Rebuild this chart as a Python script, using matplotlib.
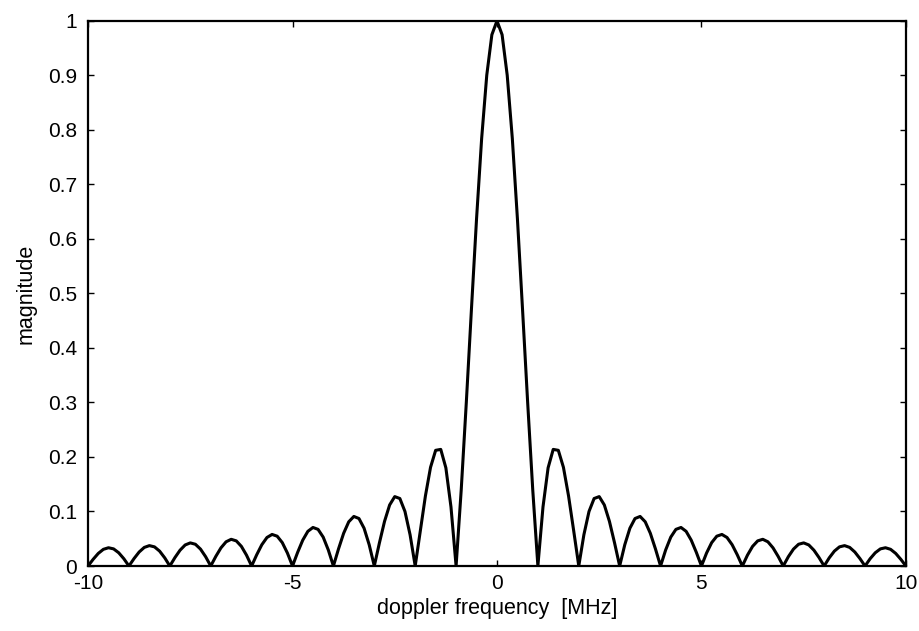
import numpy as np
import matplotlib
matplotlib.use("Agg")
import matplotlib.pyplot as plt
from matplotlib.ticker import FuncFormatter

plt.rcParams['font.family'] = ['Liberation Sans', 'DejaVu Sans']
plt.rcParams['axes.unicode_minus'] = False

magnitude = [
    0.0000, 0.0123, 0.0231, 0.0306, 0.0335, 0.0314, 0.0243, 0.0134,
    0.0000, 0.0137, 0.0257, 0.0341, 0.0374, 0.0351, 0.0273, 0.0150,
    0.0000, 0.0155, 0.0290, 0.0386, 0.0424, 0.0399, 0.0310, 0.0171,
    0.0000, 0.0177, 0.0333, 0.0444, 0.0490, 0.0461, 0.0360, 0.0199,
    0.0000, 0.0207, 0.0391, 0.0523, 0.0579, 0.0547, 0.0429, 0.0238,
    0.0000, 0.0250, 0.0474, 0.0636, 0.0707, 0.0672, 0.0530, 0.0295,
    0.0000, 0.0314, 0.0600, 0.0811, 0.0909, 0.0871, 0.0693, 0.0390,
    0.0000, 0.0424, 0.0818, 0.1120, 0.1273, 0.1238, 0.1000, 0.0573,
    0.0000, 0.0650, 0.1286, 0.1810, 0.2122, 0.2139, 0.1801, 0.1083,
    0.0000, 0.1392, 0.3001, 0.4705, 0.6366, 0.7842, 0.9003, 0.9745,
    1.0000,
    0.9745, 0.9003, 0.7842, 0.6366, 0.4705, 0.3001, 0.1392, 0.0000,
    0.1083, 0.1801, 0.2139, 0.2122, 0.1810, 0.1286, 0.0650, 0.0000,
    0.0573, 0.1000, 0.1238, 0.1273, 0.1120, 0.0818, 0.0424, 0.0000,
    0.0390, 0.0693, 0.0871, 0.0909, 0.0811, 0.0600, 0.0314, 0.0000,
    0.0295, 0.0530, 0.0672, 0.0707, 0.0636, 0.0474, 0.0250, 0.0000,
    0.0238, 0.0429, 0.0547, 0.0579, 0.0523, 0.0391, 0.0207, 0.0000,
    0.0199, 0.0360, 0.0461, 0.0490, 0.0444, 0.0333, 0.0177, 0.0000,
    0.0171, 0.0310, 0.0399, 0.0424, 0.0386, 0.0290, 0.0155, 0.0000,
    0.0150, 0.0273, 0.0351, 0.0374, 0.0341, 0.0257, 0.0137, 0.0000,
    0.0134, 0.0243, 0.0314, 0.0335, 0.0306, 0.0231, 0.0123, 0.0000,
]
# sample positions of the values above
freq = np.linspace(-10, 10, len(magnitude))

x_ticks = [-10, -5, 0, 5, 10]
y_ticks = [0, 0.1, 0.2, 0.3, 0.4, 0.5, 0.6, 0.7, 0.8, 0.9, 1.0]

fig = plt.figure(figsize=(9.2, 6.31), dpi=100)
ax = fig.add_axes([0.0957, 0.103, 0.889, 0.864])

ax.plot(freq, magnitude, color='black', linewidth=2.2, solid_joinstyle='round')

ax.set_xlim(-10, 10)
ax.set_ylim(0, 1)
ax.set_xticks(x_ticks)
ax.set_yticks(y_ticks)
ax.yaxis.set_major_formatter(FuncFormatter(lambda v, p: f"{v:g}"))
ax.tick_params(direction='in', top=True, right=True, length=4, width=1,
               labelsize=15)
ax.tick_params(axis='x', pad=6)
ax.tick_params(axis='y', pad=8)
for s in ax.spines.values():
    s.set_linewidth(1.6)

ax.set_xlabel('doppler frequency  [MHz]', fontsize=15.5, labelpad=3)
ax.set_ylabel('magnitude', fontsize=15.5, labelpad=8)

fig.savefig('out.png', dpi=100)
